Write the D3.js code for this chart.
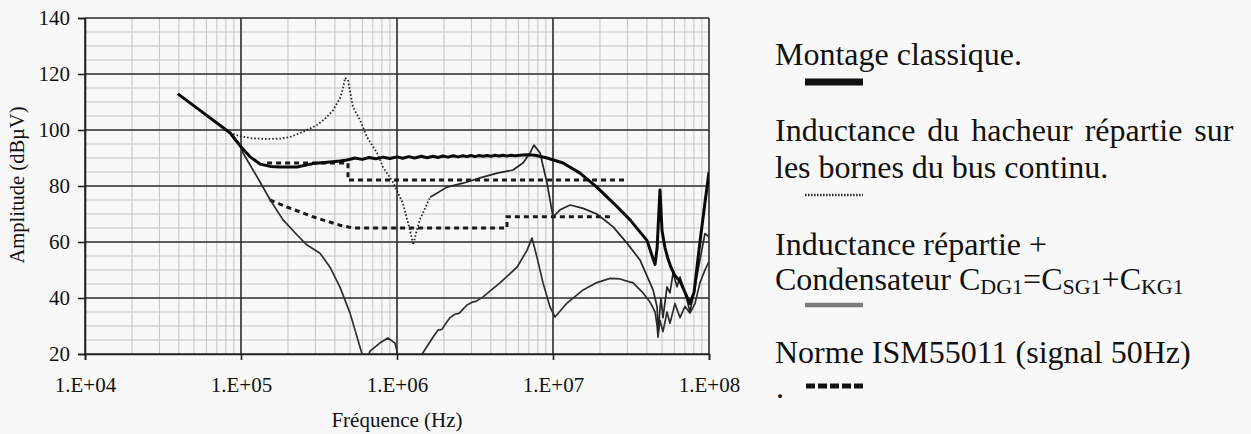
<!DOCTYPE html>
<html><head><meta charset="utf-8">
<script src="https://cdn.jsdelivr.net/npm/d3@7"></script>
<style>
html,body{margin:0;padding:0;background:#f8f8f8;}
svg{display:block;}
text{font-family:"Liberation Serif","Times New Roman",serif;fill:#111;}
</style></head>
<body><svg id="chart" width="1251" height="434"></svg>
<script>
// ---- data ----
const xTicks = [1e4, 1e5, 1e6, 1e7, 1e8];
const xTickLabels = ["1.E+04", "1.E+05", "1.E+06", "1.E+07", "1.E+08"];
const yTicks = [20, 40, 60, 80, 100, 120, 140];

// Montage classique (thick black)
const montageFreq = [3.94e4,5.46e4,8.49e4,1.0e5,1.14e5,1.33e5,1.54e5,1.78e5,2.29e5,2.89e5,3.72e5,4.31e5,4.78e5,
  5.38e5,5.97e5,6.62e5,7.33e5,8.13e5,9.02e5,1.0e6,1.09e6,1.19e6,1.30e6,1.43e6,1.56e6,1.70e6,1.83e6,1.97e6,2.12e6,
  2.29e6,2.46e6,2.65e6,2.81e6,2.98e6,3.16e6,3.36e6,3.56e6,3.78e6,4.01e6,4.25e6,4.51e6,4.78e6,5.07e6,5.38e6,5.71e6,
  6.14e6,6.81e6,7.67e6,9.16e6,1.16e7,1.49e7,1.91e7,2.43e7,3.12e7,4.01e7,4.38e7,4.51e7,4.65e7,4.85e7,5.0e7,5.22e7,
  5.46e7,5.70e7,6.05e7,6.52e7,7.02e7,7.55e7,8.02e7,8.75e7,9.42e7,1e8];
const montageAmp = [112.9,107,99,94,90.5,87.8,87,86.8,86.8,88.0,88.6,88.9,89.3,
  90.0,89.5,90.2,89.7,90.3,89.8,90.4,89.9,90.5,90.0,90.6,90.1,90.6,90.2,90.7,90.3,
  90.8,90.4,90.8,90.5,90.9,90.5,90.9,90.6,90.9,90.6,91.0,90.7,91.0,90.7,91.0,90.8,
  91.0,91.2,91.0,90.0,88.2,84.6,79.6,74.0,67.9,60.5,54,52,58,78.6,64,58,
  54,51,48,46,42,38,42,60,74,85];

// Inductance du hacheur répartie (dotted)
const repartieFreq = [3.94e4,5.46e4,8.49e4,9.86e4,1.19e5,1.47e5,1.78e5,2.06e5,2.39e5,2.77e5,3.07e5,3.45e5,3.89e5,
  4.31e5,4.51e5,4.64e5,4.85e5,5.22e5,5.79e5,6.42e5,7.45e5,8.13e5,9.42e5,1.09e6,1.21e6,1.27e6,1.34e6,1.40e6,1.63e6,
  2.09e6,2.65e6,3.41e6,4.38e6,5.54e6,6.42e6,7.13e6,7.55e6,8.26e6,9.16e6,1.0e7,1.11e7,1.29e7,1.56e7,1.91e7,2.43e7,
  2.98e7,3.61e7,4.38e7,4.65e7,4.71e7,4.92e7,5.07e7,5.38e7,5.62e7,5.88e7,6.24e7,6.52e7,7.23e7,7.55e7,8.13e7,8.75e7,
  9.42e7,1e8];
const repartieAmp = [112.9,107,99,97.8,97,96.8,96.9,97.5,98.9,100.5,101.8,104,107,
  111.4,115,118.6,117.9,108.2,103.6,97.5,91.8,86.8,81.4,73.9,64.3,59,64.3,67.9,76,
  79.6,81,82.9,84.6,85.7,88.2,91.8,94.6,91.8,81,69,71.5,73.2,72,70,65.4,
  59.6,53.6,42.9,36.8,27.5,40,33,44,41.8,48.9,44,47.5,39.3,35,44,53.6,
  63,61.8];
const repartieDottedUntil = 1.63e6;

// Inductance répartie + condensateur (thin)
const condoFreq = [3.94e4,5.46e4,8.49e4,1.0e5,1.03e5,1.27e5,1.54e5,1.86e5,2.29e5,2.65e5,3.21e5,3.72e5,4.31e5,5.0e5,
  5.97e5,6.32e5,6.71e5,7.79e5,8.75e5,9.71e5,1.01e6,1.12e6,1.30e6,1.45e6,1.70e6,1.83e6,1.94e6,2.06e6,2.19e6,2.35e6,
  2.50e6,2.65e6,2.81e6,3.03e6,3.21e6,3.56e6,4.57e6,5.88e6,
  6.81e6,7.33e6,7.89e6,8.63e6,9.57e6,1.03e7,1.23e7,1.56e7,1.91e7,2.32e7,2.68e7,3.26e7,3.78e7,4.19e7,4.51e7,4.65e7,
  4.71e7,4.85e7,5.07e7,5.38e7,5.62e7,6.05e7,6.52e7,7.02e7,7.55e7,8.13e7,8.75e7,9.42e7,1e8];
const condoAmp = [112.9,107,99,94,91.8,83.2,75,67.9,62.5,58.9,56,51,43.9,34.6,
  20,17,21,24,25.7,23.9,20,15,15,20,26,28.5,28.8,31,33,34.2,
  34.5,36,37.5,38.5,38.8,40.4,45.4,51,
  57,61.4,54.6,45.4,36.8,33.2,38.2,42.9,45.5,47,46.8,45.4,41.8,38.5,35,30,
  26,32,28,35,31,38,33,37,34.6,38,45.4,50,53];

// Norme ISM55011 (dashed)
const normUpperFreq = [1.47e5, 4.85e5, 4.85e5, 2.98e7];
const normUpperAmp = [88.2, 88.2, 82.1, 82.1];
const normLowerFreq = [1.53e5, 1.97e5, 2.89e5, 4.31e5, 5.22e5, 5.07e6, 5.07e6, 2.43e7];
const normLowerAmp = [75, 72.5, 69, 66, 65, 65, 69, 69];

// ---- chart ----
const svg = d3.select("#chart");
const L = 85, R = 709, T = 18, B = 354;
const x = d3.scaleLog().domain([1e4, 1e8]).range([L, R]);
const y = d3.scaleLinear().domain([20, 140]).range([B, T]);

// minor grid
const minorX = [];
for (let e = 4; e < 8; e++) for (let k = 2; k <= 9; k++) minorX.push(k * Math.pow(10, e));
const minorY = d3.range(20, 141, 5).filter(v => v % 20 !== 0);
const grid = svg.append("g");
grid.selectAll(".mx").data(minorX).join("line")
  .attr("x1", d => x(d)).attr("x2", d => x(d)).attr("y1", T).attr("y2", B)
  .attr("stroke", "#c4c4c4").attr("stroke-width", 1);
grid.selectAll(".my").data(minorY).join("line")
  .attr("x1", L).attr("x2", R).attr("y1", d => y(d)).attr("y2", d => y(d))
  .attr("stroke", "#c4c4c4").attr("stroke-width", 1);
grid.selectAll(".Mx").data(xTicks).join("line")
  .attr("x1", d => x(d)).attr("x2", d => x(d)).attr("y1", T).attr("y2", B)
  .attr("stroke", "#2a2a2a").attr("stroke-width", 1.6);
grid.selectAll(".My").data(yTicks).join("line")
  .attr("x1", L).attr("x2", R).attr("y1", d => y(d)).attr("y2", d => y(d))
  .attr("stroke", "#2a2a2a").attr("stroke-width", 1.6);

// axes
const yAxis = svg.append("g").attr("transform", `translate(${L},0)`)
  .call(d3.axisLeft(y).tickValues(yTicks).tickSize(7).tickPadding(8).tickFormat(d3.format("d")));
const xAxis = svg.append("g").attr("transform", `translate(0,${B})`)
  .call(d3.axisBottom(x).tickValues(xTicks).tickSize(6).tickPadding(17).tickFormat((d, i) => xTickLabels[i]));
[yAxis, xAxis].forEach(a => {
  a.select(".domain").attr("stroke", "#222").attr("stroke-width", 1.6);
  a.selectAll(".tick line").attr("stroke", "#222").attr("stroke-width", 1.6);
  a.selectAll("text").attr("font-family", "Liberation Serif").attr("font-size", 21).attr("fill", "#111");
});

svg.append("text").attr("transform", "translate(24,185) rotate(-90)")
  .attr("text-anchor", "middle").attr("font-size", 20.5).text("Amplitude (dBµV)");
svg.append("text").attr("x", 397).attr("y", 427)
  .attr("text-anchor", "middle").attr("font-size", 21).text("Fréquence (Hz)");

// curves
svg.append("clipPath").attr("id", "plotclip").append("rect")
  .attr("x", L).attr("y", T).attr("width", R - L).attr("height", B - T);
const plot = svg.append("g").attr("clip-path", "url(#plotclip)");
const line = d3.line().x(d => x(d[0])).y(d => y(d[1]));
const zip = (f, a) => f.map((v, i) => [v, a[i]]);

const normUpper = zip(normUpperFreq, normUpperAmp);
const normLower = zip(normLowerFreq, normLowerAmp);
[normUpper, normLower].forEach(d => plot.append("path").attr("d", line(d))
  .attr("fill", "none").attr("stroke", "#1a1a1a").attr("stroke-width", 3).attr("stroke-dasharray", "5,4"));

const condo = zip(condoFreq, condoAmp);
plot.append("path").attr("d", line(condo)).attr("fill", "none")
  .attr("stroke", "#2e2e2e").attr("stroke-width", 1.7).attr("stroke-linejoin", "round");

const rep = zip(repartieFreq, repartieAmp);
const repDotted = rep.filter(d => d[0] <= repartieDottedUntil);
const repSolid = rep.filter(d => d[0] >= repartieDottedUntil);
plot.append("path").attr("d", line(repDotted)).attr("fill", "none")
  .attr("stroke", "#262626").attr("stroke-width", 1.8).attr("stroke-dasharray", "1.6,2");
plot.append("path").attr("d", line(repSolid)).attr("fill", "none")
  .attr("stroke", "#262626").attr("stroke-width", 1.7).attr("stroke-linejoin", "round");

const montage = zip(montageFreq, montageAmp);
plot.append("path").attr("d", line(montage)).attr("fill", "none")
  .attr("stroke", "#0a0a0a").attr("stroke-width", 3).attr("stroke-linejoin", "round");

// legend
const lg = svg.append("g");
const lx = 775;
lg.append("text").attr("x", lx).attr("y", 65).attr("font-size", 32).text("Montage classique.");
lg.append("line").attr("x1", 805).attr("x2", 863).attr("y1", 82).attr("y2", 82)
  .attr("stroke", "#111").attr("stroke-width", 7);
lg.append("text").attr("x", lx).attr("y", 141).attr("font-size", 32).attr("word-spacing", 4)
  .text("Inductance du hacheur répartie sur");
lg.append("text").attr("x", lx).attr("y", 178).attr("font-size", 32).text("les bornes du bus continu.");
lg.append("line").attr("x1", 805).attr("x2", 863).attr("y1", 195).attr("y2", 195)
  .attr("stroke", "#333").attr("stroke-width", 2.5).attr("stroke-dasharray", "1.6,1.4");
lg.append("text").attr("x", lx).attr("y", 255).attr("font-size", 32).text("Inductance répartie +");
const ct = lg.append("text").attr("x", lx).attr("y", 290).attr("font-size", 32);
ct.append("tspan").text("Condensateur C");
ct.append("tspan").attr("font-size", 22).attr("dy", 4).text("DG1");
ct.append("tspan").attr("dy", -4).text("=C");
ct.append("tspan").attr("font-size", 22).attr("dy", 4).text("SG1");
ct.append("tspan").attr("dy", -4).text("+C");
ct.append("tspan").attr("font-size", 22).attr("dy", 4).text("KG1");
lg.append("line").attr("x1", 805).attr("x2", 863).attr("y1", 305).attr("y2", 305)
  .attr("stroke", "#7a7a7a").attr("stroke-width", 4.5);
lg.append("text").attr("x", lx).attr("y", 363).attr("font-size", 32).text("Norme ISM55011 (signal 50Hz)");
lg.append("text").attr("x", 776).attr("y", 398).attr("font-size", 32).text(".");
lg.append("line").attr("x1", 806).attr("x2", 866).attr("y1", 386).attr("y2", 386)
  .attr("stroke", "#111").attr("stroke-width", 5).attr("stroke-dasharray", "9,3");
</script></body></html>
